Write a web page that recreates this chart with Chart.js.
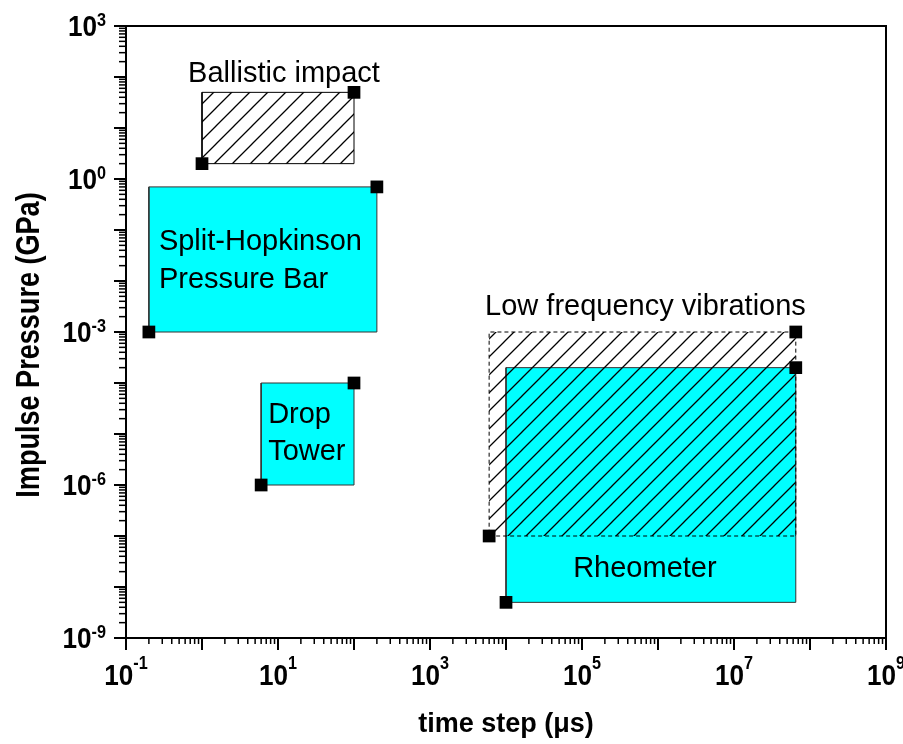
<!DOCTYPE html>
<html>
<head>
<meta charset="utf-8">
<script src="https://cdn.jsdelivr.net/npm/chart.js"></script>
<style>
  body { margin: 0; background: #fff; }
  canvas { display: block; }
</style>
</head>
<body>
<canvas id="chart" width="903" height="744"></canvas>
<script>
// test regimes on the time step / impulse pressure map
const regionNames = ['Ballistic impact', 'Split-Hopkinson\nPressure Bar', 'Drop\nTower', 'Low frequency vibrations', 'Rheometer']
const timeMin = [1, 0.2, 6, 6000, 1e4]          // us
const timeMax = [100, 200, 100, 6.5e7, 6.5e7]
const pressureMin = [2, 1e-3, 1e-6, 1e-7, 5e-9]  // GPa
const pressureMax = [50, 0.7, 1e-4, 1e-3, 2e-4]

const xTickExponents = [-1, 1, 3, 5, 7, 9]
const yTickExponents = [-9, -6, -3, 0, 3]

// look of each box: hatched or cyan, border dash, caption placement (px from the box)
const boxStyle = [
  {hatch: true,  dash: [],     caption: {align: 'center', from: 'top',    dx: 6,  dy: -10, lh: 0}},
  {hatch: false, dash: [],     caption: {align: 'left',   from: 'top',    dx: 10, dy: 63,  lh: 38}},
  {hatch: false, dash: [],     caption: {align: 'left',   from: 'top',    dx: 7,  dy: 40,  lh: 37}},
  {hatch: true,  dash: [4, 3], caption: {align: 'center', from: 'top',    dx: 3,  dy: -17, lh: 0}},
  {hatch: false, dash: [],     caption: {align: 'center', from: 'bottom', dx: -6, dy: -25, lh: 0}},
]

const FONT = '"Liberation Sans", Arial, Helvetica, sans-serif'
const canvas = document.getElementById('chart')
const ctx0 = canvas.getContext('2d')

function makeHatch(){
  const s = 18
  const c = document.createElement('canvas')
  c.width = s
  c.height = s
  const g = c.getContext('2d')
  g.strokeStyle = '#000'
  g.lineWidth = 1.3
  g.beginPath()
  g.moveTo(0, s); g.lineTo(s, 0)
  g.moveTo(-2, 2); g.lineTo(2, -2)
  g.moveTo(s - 2, s + 2); g.lineTo(s + 2, s - 2)
  g.stroke()
  return ctx0.createPattern(c, 'repeat')
}
const hatch = makeHatch()

const boxDatasets = regionNames.map((name, i) => ({
  label: name,
  data: [
    {x: timeMin[i], y: pressureMin[i]},
    {x: timeMax[i], y: pressureMin[i]},
    {x: timeMax[i], y: pressureMax[i]},
    {x: timeMin[i], y: pressureMax[i]},
    {x: timeMin[i], y: pressureMin[i]},
  ],
  showLine: true,
  fill: 'shape',
  backgroundColor: boxStyle[i].hatch ? hatch : '#00ffff',
  borderColor: boxStyle[i].hatch ? '#000' : '#333',
  borderWidth: 1,
  borderDash: boxStyle[i].dash,
  pointRadius: 0,
  order: boxStyle[i].hatch ? 1 : 2,
}))

const cornerPoints = []
regionNames.forEach((_, i) => {
  cornerPoints.push({x: timeMin[i], y: pressureMin[i]})
  cornerPoints.push({x: timeMax[i], y: pressureMax[i]})
})

function drawText(ctx, str, x, y, font, align, sx){
  ctx.save()
  ctx.font = font
  ctx.translate(x, y)
  ctx.scale(sx || 1, 1)
  ctx.textAlign = align
  ctx.textBaseline = 'alphabetic'
  ctx.fillText(str, 0, 0)
  ctx.restore()
}
function textWidth(ctx, str, font, sx){
  ctx.save()
  ctx.font = font
  const w = ctx.measureText(str).width * (sx || 1)
  ctx.restore()
  return w
}

const BASE_FONT = 'bold 29px ' + FONT
const EXP_FONT = 'bold 18px ' + FONT
const SQ = 0.9

const decorations = {
  id: 'decorations',
  afterDraw(chart){
    const {ctx, chartArea: a, scales: {x, y}} = chart
    ctx.save()
    ctx.fillStyle = '#000'
    ctx.strokeStyle = '#000'

    // captions
    regionNames.forEach((name, i) => {
      const st = boxStyle[i].caption
      const left = x.getPixelForValue(timeMin[i])
      const right = x.getPixelForValue(timeMax[i])
      const top = y.getPixelForValue(pressureMax[i])
      const bottom = y.getPixelForValue(pressureMin[i])
      const px = (st.align === 'center' ? (left + right) / 2 : left) + st.dx
      const py = (st.from === 'top' ? top : bottom) + st.dy
      name.split('\n').forEach((line, k) => {
        drawText(ctx, line, px, py + k * st.lh, '29px ' + FONT, st.align)
      })
    })

    // frame
    ctx.lineWidth = 2
    ctx.strokeRect(a.left, a.top, a.right - a.left, a.bottom - a.top)

    // ticks
    const logTicks = (scale) => {
      const out = []
      const e0 = Math.floor(Math.log10(scale.min))
      const e1 = Math.ceil(Math.log10(scale.max))
      for(let e = e0; e <= e1; e++){
        for(let m = 1; m <= 9; m++){
          const v = m * Math.pow(10, e)
          if(v >= scale.min * 0.999 && v <= scale.max * 1.001){
            out.push({v, major: m === 1})
          }
        }
      }
      return out
    }
    for(const t of logTicks(x)){
      const px = x.getPixelForValue(t.v)
      ctx.lineWidth = t.major ? 2 : 1.5
      ctx.beginPath()
      ctx.moveTo(px, a.bottom)
      ctx.lineTo(px, a.bottom + (t.major ? 12 : 6))
      ctx.stroke()
    }
    for(const t of logTicks(y)){
      const py = y.getPixelForValue(t.v)
      ctx.lineWidth = t.major ? 2 : 1.5
      ctx.beginPath()
      ctx.moveTo(a.left, py)
      ctx.lineTo(a.left - (t.major ? 12 : 7), py)
      ctx.stroke()
    }

    // tick labels 10^n
    for(const e of xTickExponents){
      const px = x.getPixelForValue(Math.pow(10, e))
      const w1 = textWidth(ctx, '10', BASE_FONT, SQ)
      const w2 = textWidth(ctx, String(e), EXP_FONT, SQ)
      const start = px - (w1 + w2) / 2
      drawText(ctx, '10', start, a.bottom + 47, BASE_FONT, 'left', SQ)
      drawText(ctx, String(e), start + w1, a.bottom + 31, EXP_FONT, 'left', SQ)
    }
    for(const e of yTickExponents){
      const py = y.getPixelForValue(Math.pow(10, e))
      const w1 = textWidth(ctx, '10', BASE_FONT, SQ)
      const w2 = textWidth(ctx, String(e), EXP_FONT, SQ)
      const right = a.left - 20
      drawText(ctx, String(e), right - w2, py, EXP_FONT, 'left', SQ)
      drawText(ctx, '10', right - w2 - w1, py + 10, BASE_FONT, 'left', SQ)
    }

    // axis titles
    drawText(ctx, 'time step (\u03bcs)', (a.left + a.right) / 2, 732, 'bold 27px ' + FONT, 'center')
    ctx.save()
    ctx.translate(39, (a.top + a.bottom) / 2 + 13)
    ctx.rotate(-Math.PI / 2)
    drawText(ctx, 'Impulse Pressure (GPa)', 0, 0, 'bold 33px ' + FONT, 'center', 0.82)
    ctx.restore()

    ctx.restore()
  }
}

const chart = new Chart(canvas, {
  type: 'scatter',
  data: {
    datasets: [
      {
        label: 'corners',
        data: cornerPoints,
        pointStyle: 'rect',
        pointRadius: 9,
        pointBackgroundColor: '#000',
        pointBorderWidth: 0,
        showLine: false,
        order: 0,
      },
      ...boxDatasets,
    ]
  },
  options: {
    responsive: false,
    animation: false,
    layout: {padding: {left: 126, right: 17, top: 26, bottom: 106}},
    plugins: {
      legend: {display: false},
      tooltip: {enabled: false},
    },
    scales: {
      x: {type: 'logarithmic', min: 0.1, max: 1e9, display: false},
      y: {type: 'logarithmic', min: 1e-9, max: 1e3, display: false},
    },
  },
  plugins: [decorations],
})
</script>
</body>
</html>
